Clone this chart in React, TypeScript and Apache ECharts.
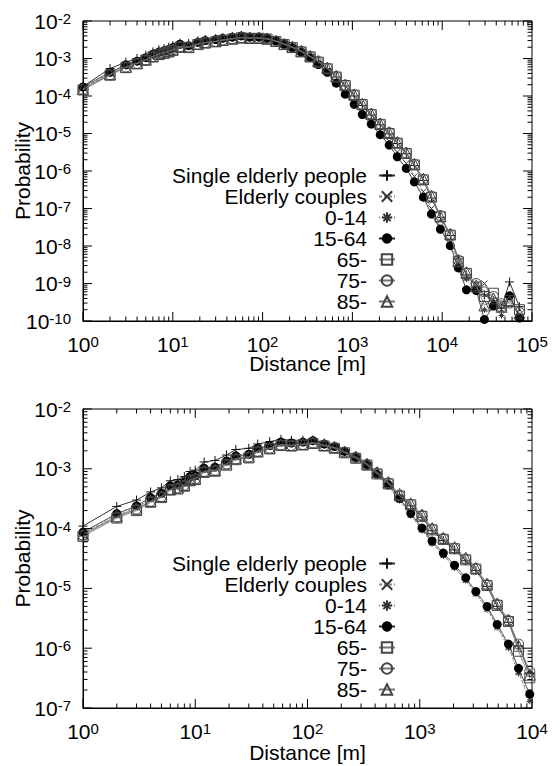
import React, { useEffect, useRef } from "react";
import * as echarts from "echarts";

const FONT = "Liberation Sans, Arial, Helvetica, sans-serif";

// Distance bins [m] (x positions of the points)
const distance = [
  1, 2, 3, 4, 5, 6, 7, 8, 9, 10,
  12, 15, 19, 23, 30, 36, 46, 58, 72, 91,
  112, 141, 174, 214, 269, 339, 417, 525, 661, 832,
  1047, 1288, 1622, 2042, 2570, 3162, 3981, 4898, 6166, 7586,
  9550, 12303, 15136, 18621, 23988, 29512, 37154, 45709, 56234, 72444,
];

const seriesNames = ["Single elderly people", "Elderly couples", "0-14", "15-64", "65-", "75-", "85-"];

// ---------- Top panel ----------
const topSingle = [
  1.8e-4, 5.4e-4, 8.0e-4, 1.0e-3, 1.22e-3, 1.5e-3, 1.7e-3, 1.85e-3, 2.0e-3, 2.2e-3,
  2.6e-3, 2.5e-3, 2.95e-3, 3.2e-3, 3.4e-3, 3.6e-3, 3.85e-3, 4.1e-3, 3.85e-3, 3.8e-3,
  3.5e-3, 3.0e-3, 2.45e-3, 2.0e-3, 1.55e-3, 1.12e-3, 8.0e-4, 5.3e-4, 3.2e-4, 1.85e-4,
  1.0e-4, 5.6e-5, 3.1e-5, 1.7e-5, 9.8e-6, 5.4e-6, 2.9e-6, 1.4e-6, 5.6e-7, 1.9e-7,
  5.8e-8, 1.9e-8, 4.5e-9, 1.7e-9, 8.0e-10, 5.0e-10, 3.5e-10, 2.2e-10, 1.1e-9, 2.4e-10,
];
const topCouples = [
  1.6e-4, 4.0e-4, 6.3e-4, 7.9e-4, 9.8e-4, 1.2e-3, 1.38e-3, 1.5e-3, 1.63e-3, 1.82e-3,
  2.25e-3, 2.1e-3, 2.55e-3, 2.85e-3, 3.05e-3, 3.3e-3, 3.55e-3, 3.8e-3, 3.6e-3, 3.6e-3,
  3.4e-3, 2.9e-3, 2.4e-3, 1.95e-3, 1.5e-3, 1.08e-3, 7.2e-4, 4.5e-4, 2.4e-4, 1.25e-4,
  6.8e-5, 3.8e-5, 2.1e-5, 1.15e-5, 6.2e-6, 3.2e-6, 1.6e-6, 7.2e-7, 2.8e-7, 1.0e-7,
  3.4e-8, 1.3e-8, 3.5e-9, 1.4e-9, 9.5e-10, 1.0e-9, 3.0e-10, 2.0e-10, 4.0e-10, 1.5e-10,
];
const top0to14 = [
  1.65e-4, 4.1e-4, 6.5e-4, 8.1e-4, 1.0e-3, 1.24e-3, 1.42e-3, 1.54e-3, 1.68e-3, 1.88e-3,
  2.3e-3, 2.15e-3, 2.6e-3, 2.9e-3, 3.1e-3, 3.35e-3, 3.6e-3, 3.9e-3, 3.65e-3, 3.65e-3,
  3.4e-3, 2.9e-3, 2.35e-3, 1.9e-3, 1.45e-3, 1.02e-3, 6.7e-4, 4.1e-4, 2.1e-4, 1.05e-4,
  5.6e-5, 3.0e-5, 1.65e-5, 8.8e-6, 4.6e-6, 2.25e-6, 1.1e-6, 4.8e-7, 1.9e-7, 6.8e-8,
  2.7e-8, 9.5e-9, 3.0e-9, 1.3e-9, 6.0e-10, 2.0e-10, 3.2e-10, 1.4e-10, 4.5e-10, 1.3e-10,
];
const top15to64 = [
  1.75e-4, 4.3e-4, 6.8e-4, 8.5e-4, 1.05e-3, 1.3e-3, 1.48e-3, 1.6e-3, 1.75e-3, 1.95e-3,
  2.4e-3, 2.2e-3, 2.7e-3, 3.0e-3, 3.2e-3, 3.45e-3, 3.7e-3, 4.0e-3, 3.7e-3, 3.7e-3,
  3.45e-3, 2.95e-3, 2.4e-3, 1.95e-3, 1.48e-3, 1.05e-3, 6.9e-4, 4.3e-4, 2.2e-4, 1.12e-4,
  6.0e-5, 3.2e-5, 1.78e-5, 9.3e-6, 4.9e-6, 2.4e-6, 1.17e-6, 5.1e-7, 2.0e-7, 7.1e-8,
  2.8e-8, 1.02e-8, 2.6e-9, 6.8e-10, 6.5e-10, 1.1e-10, 2.5e-10, null, 4.7e-10, 1.2e-10,
];
const top65 = [
  1.45e-4, 3.6e-4, 5.7e-4, 7.2e-4, 9.0e-4, 1.1e-3, 1.27e-3, 1.38e-3, 1.5e-3, 1.65e-3,
  2.0e-3, 1.95e-3, 2.35e-3, 2.6e-3, 2.8e-3, 3.05e-3, 3.3e-3, 3.55e-3, 3.45e-3, 3.45e-3,
  3.3e-3, 2.85e-3, 2.35e-3, 1.95e-3, 1.5e-3, 1.1e-3, 8.0e-4, 5.3e-4, 3.2e-4, 1.9e-4,
  1.05e-4, 5.9e-5, 3.2e-5, 1.75e-5, 1.0e-5, 5.5e-6, 2.95e-6, 1.45e-6, 5.8e-7, 2.0e-7,
  6.0e-8, 1.95e-8, 3.8e-9, 1.86e-9, 8.0e-10, 4.5e-10, 5.5e-10, 2.5e-10, 3.5e-10, 2.0e-10,
];
const top75 = [
  1.5e-4, 3.7e-4, 5.9e-4, 7.4e-4, 9.2e-4, 1.13e-3, 1.3e-3, 1.41e-3, 1.54e-3, 1.7e-3,
  2.05e-3, 2.0e-3, 2.4e-3, 2.65e-3, 2.85e-3, 3.1e-3, 3.35e-3, 3.6e-3, 3.5e-3, 3.5e-3,
  3.35e-3, 2.9e-3, 2.4e-3, 2.0e-3, 1.55e-3, 1.13e-3, 8.3e-4, 5.5e-4, 3.3e-4, 1.95e-4,
  1.07e-4, 6.0e-5, 3.3e-5, 1.8e-5, 1.05e-5, 5.7e-6, 3.0e-6, 1.5e-6, 6.0e-7, 2.1e-7,
  6.5e-8, 2.0e-8, 4.2e-9, 1.9e-9, 1.0e-9, 6.0e-10, 4.5e-10, 2.9e-10, 3.0e-10, 1.7e-10,
];
const top85 = [
  1.55e-4, 3.8e-4, 6.0e-4, 7.6e-4, 9.4e-4, 1.15e-3, 1.32e-3, 1.44e-3, 1.57e-3, 1.73e-3,
  2.1e-3, 2.05e-3, 2.45e-3, 2.7e-3, 2.9e-3, 3.15e-3, 3.4e-3, 3.65e-3, 3.55e-3, 3.55e-3,
  3.4e-3, 2.95e-3, 2.45e-3, 2.05e-3, 1.6e-3, 1.17e-3, 8.6e-4, 5.7e-4, 3.45e-4, 2.0e-4,
  1.1e-4, 6.2e-5, 3.4e-5, 1.85e-5, 1.08e-5, 5.9e-6, 3.1e-6, 1.55e-6, 6.2e-7, 2.2e-7,
  6.2e-8, 2.1e-8, 4.0e-9, 2.0e-9, 9.0e-10, 2.6e-10, 4.0e-10, 2.4e-10, 3.4e-10, 1.6e-10,
];

// ---------- Bottom panel ----------
const botSingle = [
  1.1e-4, 2.35e-4, 3.0e-4, 4.1e-4, 4.8e-4, 6.3e-4, 6.6e-4, 7.4e-4, 9.0e-4, 9.5e-4,
  1.3e-3, 1.38e-3, 1.7e-3, 2.1e-3, 2.2e-3, 2.6e-3, 2.85e-3, 3.1e-3, 3.0e-3, 3.0e-3,
  3.05e-3, 2.7e-3, 2.4e-3, 2.0e-3, 1.6e-3, 1.2e-3, 8.5e-4, 5.7e-4, 3.5e-4, 2.4e-4,
  1.55e-4, 9.2e-5, 6.3e-5, 4.4e-5, 2.9e-5, 2.0e-5, 1.08e-5, 5.0e-6, 2.7e-6, 1.1e-6,
  3.8e-7,
];
const botCouples = [
  8.2e-5, 1.65e-4, 2.25e-4, 3.1e-4, 3.7e-4, 4.9e-4, 5.1e-4, 5.7e-4, 7.0e-4, 7.3e-4,
  9.7e-4, 1.02e-3, 1.28e-3, 1.57e-3, 1.67e-3, 2.1e-3, 2.35e-3, 2.7e-3, 2.65e-3, 2.7e-3,
  2.85e-3, 2.55e-3, 2.3e-3, 1.92e-3, 1.52e-3, 1.13e-3, 7.8e-4, 5.1e-4, 3.0e-4, 1.7e-4,
  9.6e-5, 5.8e-5, 3.6e-5, 2.25e-5, 1.38e-5, 8.2e-6, 4.6e-6, 2.3e-6, 1.05e-6, 4.0e-7,
  1.4e-7,
];
const bot0to14 = [
  8.5e-5, 1.7e-4, 2.3e-4, 3.2e-4, 3.8e-4, 5.0e-4, 5.25e-4, 5.85e-4, 7.2e-4, 7.5e-4,
  1.0e-3, 1.05e-3, 1.32e-3, 1.62e-3, 1.72e-3, 2.15e-3, 2.4e-3, 2.75e-3, 2.7e-3, 2.75e-3,
  2.9e-3, 2.55e-3, 2.3e-3, 1.9e-3, 1.5e-3, 1.12e-3, 7.7e-4, 5.0e-4, 2.95e-4, 1.65e-4,
  9.3e-5, 5.6e-5, 3.5e-5, 2.2e-5, 1.35e-5, 8.0e-6, 4.4e-6, 2.2e-6, 1.0e-6, 3.8e-7,
  1.3e-7,
];
const bot15to64 = [
  8.7e-5, 1.78e-4, 2.4e-4, 3.3e-4, 3.9e-4, 5.2e-4, 5.4e-4, 6.0e-4, 7.4e-4, 7.7e-4,
  1.02e-3, 1.07e-3, 1.35e-3, 1.65e-3, 1.75e-3, 2.2e-3, 2.45e-3, 2.8e-3, 2.7e-3, 2.8e-3,
  2.95e-3, 2.6e-3, 2.35e-3, 1.95e-3, 1.55e-3, 1.17e-3, 8.1e-4, 5.4e-4, 3.2e-4, 1.8e-4,
  1.02e-4, 6.2e-5, 3.9e-5, 2.45e-5, 1.5e-5, 8.9e-6, 5.0e-6, 2.5e-6, 1.17e-6, 4.6e-7,
  1.7e-7,
];
const bot65 = [
  7.4e-5, 1.5e-4, 2.0e-4, 2.75e-4, 3.3e-4, 4.4e-4, 4.6e-4, 5.1e-4, 6.3e-4, 6.6e-4,
  8.7e-4, 9.1e-4, 1.15e-3, 1.42e-3, 1.52e-3, 1.9e-3, 2.15e-3, 2.45e-3, 2.4e-3, 2.5e-3,
  2.65e-3, 2.4e-3, 2.2e-3, 1.85e-3, 1.5e-3, 1.15e-3, 8.2e-4, 5.6e-4, 3.5e-4, 2.5e-4,
  1.6e-4, 9.5e-5, 6.6e-5, 4.6e-5, 3.0e-5, 2.1e-5, 1.12e-5, 5.2e-6, 2.8e-6, 8.9e-7,
  3.2e-7,
];
const bot75 = [
  7.8e-5, 1.55e-4, 2.1e-4, 2.85e-4, 3.4e-4, 4.5e-4, 4.75e-4, 5.3e-4, 6.5e-4, 6.8e-4,
  9.0e-4, 9.4e-4, 1.2e-3, 1.46e-3, 1.56e-3, 1.95e-3, 2.2e-3, 2.5e-3, 2.45e-3, 2.55e-3,
  2.7e-3, 2.45e-3, 2.25e-3, 1.9e-3, 1.55e-3, 1.18e-3, 8.5e-4, 5.8e-4, 3.6e-4, 2.55e-4,
  1.65e-4, 9.8e-5, 6.8e-5, 4.7e-5, 3.1e-5, 2.15e-5, 1.15e-5, 5.4e-6, 2.9e-6, 1.17e-6,
  4.1e-7,
];
const bot85 = [
  8.0e-5, 1.6e-4, 2.15e-4, 2.9e-4, 3.5e-4, 4.6e-4, 4.85e-4, 5.4e-4, 6.6e-4, 6.9e-4,
  9.2e-4, 9.6e-4, 1.22e-3, 1.5e-3, 1.6e-3, 2.0e-3, 2.25e-3, 2.55e-3, 2.5e-3, 2.6e-3,
  2.75e-3, 2.5e-3, 2.3e-3, 1.95e-3, 1.6e-3, 1.22e-3, 8.8e-4, 6.0e-4, 3.8e-4, 2.65e-4,
  1.72e-4, 1.02e-4, 7.0e-5, 4.9e-5, 3.25e-5, 2.2e-5, 1.2e-5, 5.6e-6, 3.0e-6, 1.1e-6,
  3.6e-7,
];

// Axis decades (tick exponents)
const topXExp = [0, 1, 2, 3, 4, 5];
const topYExp = [-10, -9, -8, -7, -6, -5, -4, -3, -2];
const botXExp = [0, 1, 2, 3, 4];
const botYExp = [-7, -6, -5, -4, -3, -2];

const topValues = [topSingle, topCouples, top0to14, top15to64, top65, top75, top85];
const botValues = [botSingle, botCouples, bot0to14, bot15to64, bot65, bot75, bot85];

const PLUS = "path://M0,5L10,5M5,0L5,10";
const CROSS = "path://M0,0L10,10M0,10L10,0";
const STAR = "path://M0,5L10,5M5,0L5,10M1.5,1.5L8.5,8.5M1.5,8.5L8.5,1.5";

const styles: any[] = [
  { symbol: PLUS, size: 9, fill: "#000", stroke: "#111", bw: 1, line: { color: "#333", type: "solid", width: 1 } },
  { symbol: CROSS, size: 6, fill: "#000", stroke: "#333", bw: 1, line: { color: "#888", type: [3, 2], width: 1 } },
  { symbol: STAR, size: 6, fill: "#000", stroke: "#333", bw: 1, line: { color: "#888", type: [1, 2], width: 1 } },
  { symbol: "circle", size: 9, fill: "#000", stroke: "#000", bw: 0, line: { color: "#222", type: "solid", width: 0.8 } },
  { symbol: "rect", size: 10, fill: "rgba(255,255,255,0)", stroke: "#444", bw: 1, line: { color: "#777", type: "solid", width: 0.8 } },
  { symbol: "circle", size: 10, fill: "rgba(255,255,255,0)", stroke: "#444", bw: 1, line: { color: "#777", type: "solid", width: 0.8 } },
  { symbol: "triangle", size: 11, fill: "rgba(255,255,255,0)", stroke: "#444", bw: 1, line: { color: "#777", type: "solid", width: 0.8 } },
];

const supLabel = (v: number) => `{b|10}{s|${Math.round(Math.log10(v))}}`;
const labelRich = {
  b: { fontSize: 21, lineHeight: 20, fontFamily: FONT, color: "#000" },
  s: { fontSize: 15, lineHeight: 8, verticalAlign: "top", fontFamily: FONT, color: "#000" },
};

function tickSeries(gi: number, xMin: number, xMax: number, yMin: number, yMax: number, xExp: number[], yExp: number[]) {
  const data: number[][] = [];
  xExp.forEach((e) => {
    for (let k = 1; k <= 9; k++) {
      const v = k * Math.pow(10, e);
      if (v > xMax * 1.0001) break;
      data.push([v, yMin, k === 1 ? 1 : 0]);
    }
  });
  yExp.forEach((e) => {
    for (let k = 1; k <= 9; k++) {
      const v = k * Math.pow(10, e);
      if (v > yMax * 1.0001) break;
      data.push([xMin, v, k === 1 ? 3 : 2]);
    }
  });
  return {
    type: "custom",
    xAxisIndex: gi,
    yAxisIndex: gi,
    silent: true,
    clip: false,
    z: 5,
    encode: { x: 0, y: 1 },
    data,
    renderItem: (_p: any, api: any) => {
      const kind = api.value(2);
      const x = api.value(0);
      const y = api.value(1);
      const len = kind % 2 === 1 ? 9 : 4.5;
      const style = { stroke: "#000", lineWidth: 1 };
      if (kind < 2) {
        const b = api.coord([x, yMin]);
        const t = api.coord([x, yMax]);
        return {
          type: "group",
          children: [
            { type: "line", shape: { x1: b[0], y1: b[1], x2: b[0], y2: b[1] - len }, style },
            { type: "line", shape: { x1: t[0], y1: t[1], x2: t[0], y2: t[1] + len }, style },
          ],
        };
      }
      const l = api.coord([xMin, y]);
      const r = api.coord([xMax, y]);
      return {
        type: "group",
        children: [
          { type: "line", shape: { x1: l[0], y1: l[1], x2: l[0] + len, y2: l[1] }, style },
          { type: "line", shape: { x1: r[0], y1: r[1], x2: r[0] - len, y2: r[1] }, style },
        ],
      };
    },
  };
}

function lineSeries(gi: number, values: (number | null)[][]) {
  return values.map((vals, i) => {
    const s = styles[i];
    return {
      type: "line",
      name: seriesNames[i],
      xAxisIndex: gi,
      yAxisIndex: gi,
      data: vals.map((v, j) => [distance[j], v]),
      symbol: s.symbol,
      symbolSize: s.size,
      showSymbol: true,
      connectNulls: false,
      lineStyle: { color: s.line.color, type: s.line.type, width: s.line.width },
      itemStyle: { color: s.fill, borderColor: s.stroke, borderWidth: s.bw },
      emphasis: { disabled: true },
      z: 3 + i * 0.01,
    };
  });
}

function xAxis(gi: number, max: number, gap: number) {
  return {
    type: "log",
    logBase: 10,
    gridIndex: gi,
    min: 1,
    max,
    interval: 1,
    name: "Distance [m]",
    nameLocation: "middle",
    nameGap: gap,
    nameMoveOverlap: false,
    nameTextStyle: { fontSize: 21, lineHeight: 16, color: "#000", fontFamily: FONT },
    axisLine: { show: true, lineStyle: { color: "#000", width: 1 } },
    axisTick: { show: false },
    minorTick: { show: false },
    splitLine: { show: false },
    axisLabel: {
      show: true,
      margin: 13,
      showMinLabel: true,
      showMaxLabel: true,
      formatter: supLabel,
      rich: labelRich,
    },
  };
}

function yAxis(gi: number, min: number, max: number) {
  return {
    type: "log",
    logBase: 10,
    gridIndex: gi,
    min,
    max,
    interval: 1,
    name: "Probability",
    nameLocation: "middle",
    nameGap: 50,
    nameMoveOverlap: false,
    nameTextStyle: { fontSize: 21, color: "#000", fontFamily: FONT },
    axisLine: { show: true, lineStyle: { color: "#000", width: 1 } },
    axisTick: { show: false },
    minorTick: { show: false },
    splitLine: { show: false },
    axisLabel: {
      show: true,
      margin: 12,
      showMinLabel: true,
      showMaxLabel: true,
      formatter: supLabel,
      rich: labelRich,
    },
  };
}

function legend(top: number) {
  return {
    data: seriesNames,
    orient: "vertical",
    align: "right",
    right: 164,
    top,
    padding: 0,
    itemGap: 0,
    itemWidth: 16,
    itemHeight: 13,
    selectedMode: false,
    formatter: (name: string) => `{t|${name}}`,
    textStyle: {
      fontSize: 21,
      lineHeight: 20,
      fontFamily: FONT,
      color: "#000",
      rich: { t: { fontSize: 21, lineHeight: 20, fontFamily: FONT, color: "#000", padding: [0, 7, 0, 0] } },
    },
  };
}

const gridBase = {
  show: true,
  borderColor: "#000",
  borderWidth: 1,
  backgroundColor: "transparent",
  containLabel: false,
  outerBoundsMode: "none",
};

export default function App() {
  const ref = useRef<HTMLDivElement>(null);
  useEffect(() => {
    if (!ref.current) return;
    const chart = echarts.init(ref.current, undefined, { renderer: "svg" });
    chart.setOption({
      animation: false,
      backgroundColor: "#fff",
      textStyle: { fontFamily: FONT },
      grid: [
        { ...gridBase, left: 83, top: 21, width: 449, height: 300 },
        { ...gridBase, left: 83, top: 409, width: 449, height: 299 },
      ],
      xAxis: [xAxis(0, 1e5, 34), xAxis(1, 1e4, 36)],
      yAxis: [yAxis(0, 1e-10, 1e-2), yAxis(1, 1e-7, 1e-2)],
      legend: [legend(165), legend(553)],
      series: [
        ...lineSeries(0, topValues),
        ...lineSeries(1, botValues),
        tickSeries(0, 1, 1e5, 1e-10, 1e-2, topXExp, topYExp),
        tickSeries(1, 1, 1e4, 1e-7, 1e-2, botXExp, botYExp),
      ],
    });
    return () => chart.dispose();
  }, []);
  return (
    <div
      ref={ref}
      style={{ position: "fixed", left: 0, top: 0, width: 560, height: 766, background: "#fff" }}
    />
  );
}
